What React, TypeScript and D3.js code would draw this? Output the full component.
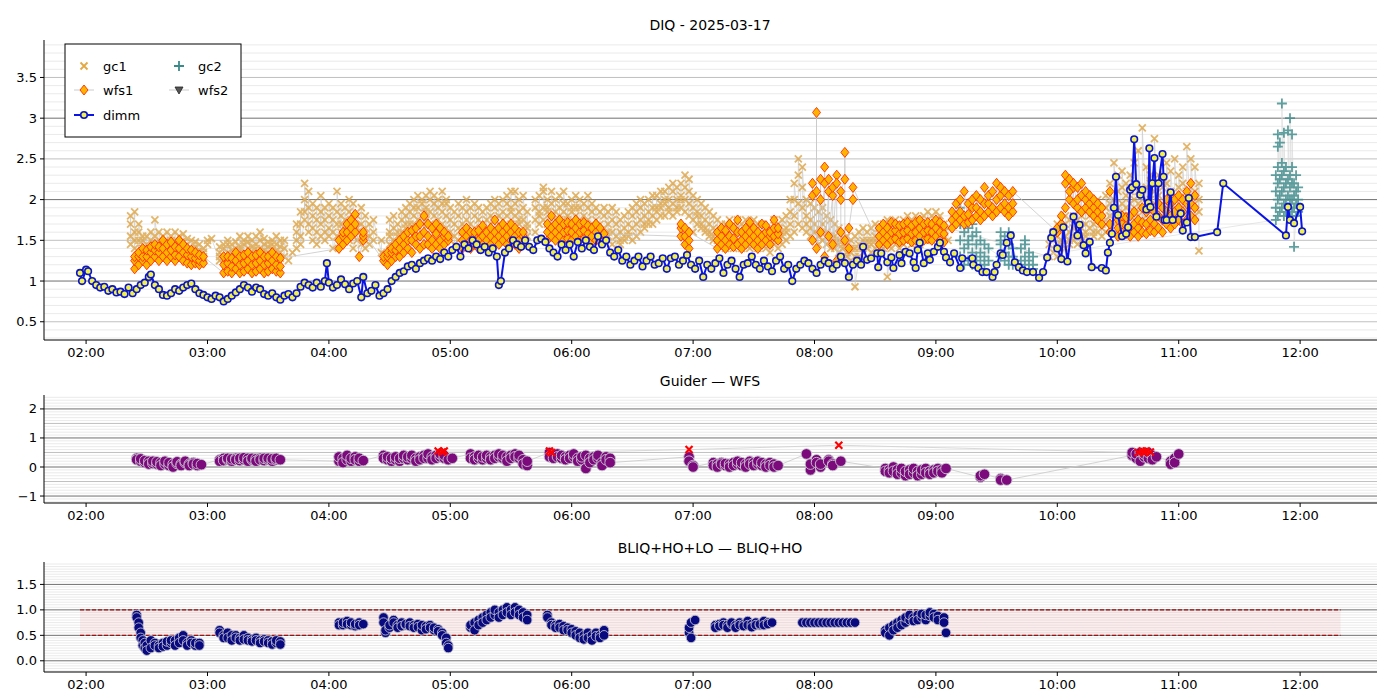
import React from "react";
import * as d3 from "d3";

// ---------- DATA (time = minutes after 00:00 UT) ----------
const dimm: [number, number][] = [
[117,1.1],[118,1.0],[120,1.14],[121,1.12],[123,1.0],[125,0.95],[127,0.92],[129,0.93],[131,0.88],[133,0.9],[135,0.86],[137,0.87],[139,0.84],[141,0.92],[143,0.85],[145,0.9],[147,0.95],[149,0.98],[151,1.05],[152,1.08],[154,0.95],[156,0.9],[158,0.83],[160,0.82],[162,0.85],[164,0.9],[166,0.88],[168,0.92],[170,0.95],[172,0.97],[174,0.9],[176,0.85],[178,0.83],[180,0.8],[182,0.78],[184,0.82],[186,0.8],[188,0.75],[190,0.78],[192,0.82],[194,0.86],[196,0.9],[198,0.95],[200,0.92],[202,0.87],[204,0.92],[206,0.9],[208,0.84],[210,0.82],[212,0.85],[214,0.8],[216,0.77],[218,0.82],[220,0.84],[222,0.8],[224,0.85],[226,0.93],[228,0.98],[230,0.95],[232,0.92],[234,0.98],[236,0.93],[238,1.0],[239,1.22],[240,0.98],[242,0.92],[244,0.95],[246,1.02],[248,0.96],[250,0.9],[252,0.97],[254,1.0],[256,0.8],[257,1.05],[259,0.85],[261,0.88],[263,0.95],[265,0.82],[267,0.85],[269,0.9],[271,1.0],[273,1.05],[275,1.1],[277,1.12],[279,1.18],[281,1.2],[283,1.15],[285,1.22],[287,1.25],[289,1.28],[291,1.25],[293,1.3],[295,1.27],[297,1.35],[299,1.3],[301,1.38],[303,1.42],[305,1.3],[307,1.45],[309,1.4],[311,1.5],[313,1.45],[315,1.38],[317,1.42],[319,1.35],[321,1.4],[323,1.3],[324,0.95],[325,1.0],[327,1.35],[329,1.4],[331,1.5],[333,1.45],[335,1.42],[337,1.5],[339,1.42],[341,1.38],[343,1.5],[345,1.52],[347,1.48],[349,1.4],[351,1.35],[353,1.3],[355,1.45],[357,1.38],[359,1.45],[361,1.3],[363,1.48],[365,1.4],[367,1.5],[369,1.42],[371,1.38],[373,1.55],[375,1.45],[377,1.5],[379,1.35],[381,1.3],[383,1.38],[385,1.25],[387,1.3],[389,1.2],[391,1.25],[393,1.3],[395,1.18],[397,1.25],[399,1.3],[401,1.2],[403,1.22],[405,1.28],[407,1.15],[409,1.28],[411,1.3],[413,1.2],[415,1.25],[417,1.32],[419,1.2],[421,1.15],[423,1.25],[425,1.05],[427,1.2],[429,1.15],[431,1.22],[433,1.28],[435,1.1],[437,1.2],[439,1.25],[441,1.15],[443,1.05],[445,1.2],[447,1.22],[449,1.3],[451,1.2],[453,1.15],[455,1.25],[457,1.18],[459,1.12],[461,1.25],[463,1.3],[465,1.15],[467,1.2],[469,1.0],[471,1.15],[473,1.2],[475,1.25],[477,1.22],[479,1.15],[481,1.1],[483,1.2],[485,1.25],[487,1.22],[489,1.15],[491,1.2],[493,1.3],[495,1.22],[497,1.05],[499,1.2],[501,1.25],[503,1.2],
[504,1.42],[506,1.26],[508,1.28],[511,1.34],[511.5,1.17],[513,1.34],[516,1.23],[518,1.29],[519,1.16],[522,1.32],[523,1.22],[525,1.36],[527,1.34],[529,1.23],[530,1.16],[531,1.38],[532,1.47],[534,1.22],[536,1.34],[537,1.26],[539,1.36],[541,1.42],[542,1.47],[544,1.36],[545,1.29],[547,1.23],[549,1.34],[552,1.16],[553,1.28],[558,1.28],[558.5,1.2],[561,1.16],[563,1.11],[565,1.11],[568,1.05],[569,1.11],[570,1.2],[572,1.34],[573,1.32],[575,1.47],[577,1.56],[579,1.23],[581,1.17],[583,1.13],[585,1.11],[588,1.11],[591,1.04],[593,1.11],[595,1.29],[597,1.53],[598,1.6],
[600,1.4],[602,1.27],[603,1.66],[605,1.24],[608,1.79],[610,1.56],[611,1.69],[613,1.44],[614,1.34],[616,1.48],[617,1.17],[622,1.16],[624,1.13],[625,1.35],[626,1.47],[627,1.58],[628,1.9],[629,2.28],[630,1.81],[632,1.55],[634,1.58],[635,1.66],[636,2.12],[637,2.15],[638,2.74],[639,2.19],[641,2.06],[642,2.12],[644,1.88],[645,1.96],[645.5,2.63],[646,1.91],[647,2.2],[648,2.51],[649,1.79],[650,2.2],[652,2.56],[652.5,2.28],[653,1.75],[654,1.75],[656,2.09],[657,1.75],[661,1.83],[662,1.62],[664,1.72],[665,2.02],[666,1.54],[668,1.54],[679,1.6],[682,2.2],[713,1.56],[714,1.91],[715,1.75],[717,1.71],[720,1.91],[721,1.61]
];

const gc1: number[][] = [
[142,1.55,1.7,1.8,1.45],[144,1.6,1.85,1.4,1.5],[146,1.5,1.35,1.6,1.7],[148,1.4,1.5,1.3,1.55],[150,1.35,1.45,1.55,1.3],[152,1.4,1.5,1.35,1.6],[154,1.45,1.3,1.55,1.75],[156,1.4,1.5,1.35,1.6],[158,1.3,1.45,1.55,1.4],[160,1.35,1.5,1.6,1.45],[162,1.4,1.55,1.3,1.5],[164,1.35,1.45,1.6,1.5],[166,1.3,1.4,1.55,1.45],[168,1.4,1.5,1.35,1.58],[170,1.3,1.45,1.38,1.52],[172,1.28,1.4,1.5,1.35],[174,1.3,1.42,1.35,1.48],[176,1.25,1.38,1.3,1.45],[178,1.28,1.35,1.4,1.3],[180,1.45,1.5],[182,1.52],
[186,1.25,1.35,1.42,1.3],[188,1.3,1.4,1.28,1.45],[190,1.35,1.45,1.3,1.5],[192,1.3,1.38,1.45,1.32],[194,1.28,1.4,1.35,1.48],[196,1.3,1.42,1.55,1.38],[198,1.35,1.45,1.3,1.5],[200,1.4,1.32,1.48,1.55],[202,1.3,1.42,1.5,1.36],[204,1.35,1.45,1.55,1.4],[206,1.32,1.4,1.5,1.6],[208,1.3,1.45,1.38,1.52],[210,1.35,1.42,1.3,1.48],[212,1.32,1.4,1.5,1.45],[214,1.3,1.38,1.45,1.55],[216,1.35,1.28,1.42,1.5],[218,1.3,1.4,1.5],[220,1.25],[222,1.35],
[224,1.4,1.6,1.5,1.7],[226,1.55,1.7,1.85,1.45],[228,1.75,2.0,1.85,2.2],[230,1.6,1.9,2.1,1.7],[232,1.65,1.8,1.95,1.5],[234,1.6,1.75,1.9,1.45],[236,1.55,1.85,1.7,2.05],[238,1.6,1.75,1.9,1.5],[240,1.65,1.55,1.8,1.95],[242,1.6,1.75,1.9,1.4],[244,1.55,1.7,1.85,2.1],[246,1.6,1.8,1.95,1.7],[248,1.55,1.75,1.9,1.65],[250,1.5,1.6,1.85,2.0],[252,1.55,1.7,1.95,1.4],[254,1.6,1.8,1.65,1.5],[256,1.55,1.7,1.9,1.45],[258,1.5,1.65,1.8,1.4],[260,1.55,1.7,1.45],[262,1.5,1.6,1.75],[266,1.35,1.5],
[270,1.45,1.6,1.75,1.55],[272,1.5,1.65,1.8,1.4],[274,1.55,1.7,1.6,1.45],[276,1.6,1.75,1.85,1.5],[278,1.65,1.8,1.7,1.9],[280,1.7,1.85,1.95,1.6],[282,1.7,1.9,2.0,1.8],[284,1.75,1.9,2.05,1.65],[286,1.8,1.95,1.7,2.0],[288,1.75,1.9,2.05,1.85],[290,1.7,1.85,2.0,2.1],[292,1.8,1.95,1.65,2.05],[294,1.75,1.9,2.0,1.6],[296,1.7,1.85,2.1,1.95],[298,1.65,1.8,1.95,2.0],[300,1.6,1.75,1.9,1.5],[302,1.55,1.7,1.85,1.45],[304,1.5,1.65,1.8,1.95],[306,1.55,1.7,1.9,1.6],[308,1.6,1.75,1.85,2.0],[310,1.55,1.7,1.9,1.5],[312,1.5,1.65,1.8,1.95],[314,1.55,1.75,1.9,1.6],[316,1.5,1.7,1.85,1.6],[318,1.55,1.75,1.9,1.65],[320,1.6,1.8,1.95,1.7],[322,1.55,1.75,1.9,2.0],[324,1.6,1.8,1.95,1.7],[326,1.65,1.85,2.0,1.75],[328,1.6,1.8,1.95,2.05],[330,1.7,1.85,2.1,1.9],[332,1.65,1.8,1.95,2.1],[334,1.7,1.85,2.0,1.75],[336,1.6,1.75,1.9,2.05],[338,1.55,1.7,1.85,1.65],
[342,1.6,1.75,1.9,2.0],[344,1.7,1.85,2.05,1.8],[346,1.75,1.9,2.1,2.15],[348,1.7,1.85,2.0,1.9],[350,1.65,1.8,1.95,2.1],[352,1.7,1.85,2.0,1.75],[354,1.75,1.9,2.05,1.8],[356,1.7,1.85,1.95,2.1],[358,1.65,1.8,1.95,1.75],[360,1.7,1.85,2.0,1.9],[362,1.65,1.8,1.9,2.05],[364,1.6,1.75,1.9,2.0],[366,1.65,1.8,1.95,1.7],[368,1.6,1.75,1.9,2.05],[370,1.55,1.7,1.85,1.95],[372,1.6,1.75,1.9,1.65],[374,1.55,1.7,1.85,1.6],[376,1.5,1.65,1.8,1.9],[378,1.55,1.7,1.85,1.6],[380,1.45,1.6,1.75,1.9],[382,1.4,1.55,1.7,1.85],[384,1.45,1.6,1.75,1.5],[386,1.5,1.65,1.8,1.55],[388,1.55,1.7,1.85,1.6],[390,1.5,1.65,1.8,1.9],[392,1.55,1.7,1.85,1.95],[394,1.6,1.75,1.9,2.0],[396,1.65,1.8,1.95,1.7],[398,1.7,1.85,2.0,1.75],[400,1.7,1.9,2.05,1.8],[402,1.75,1.9,2.05,1.85],[404,1.8,1.95,2.1,1.9],[406,1.8,1.95,2.1,2.0],[408,1.85,2.0,2.15,1.9],[410,1.8,1.95,2.1,2.2],[412,1.85,2.0,2.15,1.9],[414,1.9,2.05,2.2,2.0],[416,1.85,2.0,2.15,2.3],[418,1.8,1.95,2.1,2.25],
[420,1.75,1.9,2.05,1.6],[422,1.7,1.85,2.0,1.8],[424,1.65,1.8,1.95,1.7],[426,1.6,1.75,1.9,1.65],[428,1.55,1.7,1.85,1.6],[430,1.5,1.65,1.8,1.55],[432,1.45,1.6,1.75,1.5],[434,1.45,1.6,1.7,1.55],[436,1.4,1.55,1.7,1.5],[438,1.45,1.6,1.75,1.5],[440,1.4,1.55,1.7,1.65],[442,1.45,1.6,1.75,1.5],[444,1.4,1.55,1.7,1.45],[446,1.45,1.6,1.75,1.55],[448,1.4,1.55,1.7,1.65],[450,1.45,1.6,1.75,1.5],[452,1.4,1.55,1.7,1.65],[454,1.45,1.6,1.7,1.55],[456,1.4,1.55,1.65,1.5],[458,1.35,1.5,1.65,1.45],[460,1.45,1.6,1.75,1.5],[462,1.4,1.55,1.7,1.65],[464,1.45,1.6,1.75,1.55],[466,1.5,1.65,1.8,1.6],[468,1.55,1.7,1.85,2.0],[470,1.6,1.8,2.0,2.2],[472,1.7,1.95,2.3,2.5],[474,1.65,1.9,2.15,2.4],[476,1.6,1.8,2.0,1.7],[478,1.55,1.75,1.95,1.65],[480,1.5,1.7,1.9,1.6],[482,1.45,1.65,1.85,1.55],[484,1.5,1.7,1.9,1.6],[486,1.45,1.6,1.8,1.55],[488,1.4,1.55,1.75,1.5],[490,1.4,1.55,1.7,1.5],[492,1.35,1.5,1.65,1.45],[494,1.3,1.45,1.6,1.4],[496,1.3,1.45,1.55,1.35],[498,1.25,1.4,1.5,1.35],[500,1.3,1.4,1.55,0.93],[502,1.3,1.45,1.6,1.4],[504,1.35,1.5,1.65,1.4],[506,1.4,1.5,1.6,1.45],[508,1.35,1.5,1.65,1.45],[510,1.4,1.55,1.7,1.5],[512,1.35,1.5,1.65,1.4],[514,1.4,1.55,1.7,1.5],[516,1.45,1.6,1.75,1.05],[518,1.4,1.55,1.7,1.5],[520,1.45,1.6,1.75,1.55],[522,1.4,1.55,1.7,1.5],[524,1.45,1.6,1.75,1.55],[526,1.5,1.65,1.8,1.6],[528,1.45,1.6,1.75,1.55],[530,1.5,1.65,1.8,1.6],[532,1.45,1.6,1.75,1.55],[534,1.5,1.65,1.8,1.6],[536,1.55,1.7,1.85,1.6],[538,1.5,1.65,1.8,1.6],[540,1.55,1.7,1.85,1.65],[542,1.5,1.65,1.8,1.6],[544,1.55,1.7,1.6],[546,1.5,1.65],
[596,1.3,1.45],[598,1.35,1.5,1.6],[600,1.4,1.55,1.7,1.3],[602,1.45,1.6,1.75,1.5],[604,1.4,1.55,1.7,1.8],[606,1.45,1.6,1.75,1.5],[608,1.5,1.65,1.8,1.55],[610,1.45,1.6,1.75,1.85],[612,1.5,1.65,1.8,1.55],[614,1.55,1.7,1.85,1.6],[616,1.5,1.65,1.8,1.95],[618,1.55,1.7,1.85,1.6],[620,1.6,1.75,1.9,2.0],[622,1.55,1.7,1.85,1.65],[624,1.6,1.75,1.9,2.05],[626,1.65,1.8,1.95,2.2],[628,1.7,1.85,2.0,2.45],[630,1.75,1.9,2.1,2.3],[632,1.8,1.95,2.15,2.35],[634,1.75,1.9,2.05,2.2],[636,1.8,1.95,2.1,2.3],[638,1.85,2.0,2.2,2.45],[640,1.8,1.95,2.1,2.6],[642,1.75,1.9,2.05,2.88],[644,1.8,1.95,2.15,2.4],[646,1.85,2.0,2.2,2.3],[648,1.8,1.95,2.1,2.75],[650,1.75,1.9,2.05,2.3],[652,1.8,1.95,2.15,2.2],[654,1.85,2.0,2.2,2.45],[656,1.8,1.95,2.1,2.35],[658,1.75,1.9,2.05,2.5],[660,1.8,1.95,2.15,2.3],[662,1.85,2.0,2.2,2.4],[664,1.8,1.95,2.1,2.65],[666,1.75,1.9,2.05,2.5],[668,1.8,1.95,2.1,2.4],[670,1.85,2.0,2.2,1.37]
];

const wfs1: number[][] = [
[144,1.15,1.25,1.3],[146,1.2,1.3,1.35],[148,1.25,1.3,1.4],[150,1.2,1.3,1.38],[152,1.25,1.35,1.42],[154,1.3,1.38,1.45],[156,1.25,1.35,1.42],[158,1.3,1.4,1.5],[160,1.25,1.35,1.45],[162,1.3,1.38,1.48],[164,1.25,1.32,1.42],[166,1.3,1.4,1.5],[168,1.25,1.35,1.45],[170,1.22,1.32,1.4],[172,1.2,1.3,1.38],[174,1.22,1.28,1.35],[176,1.2,1.25,1.32],[178,1.22,1.3],
[188,1.1,1.2,1.3],[190,1.12,1.22,1.3],[192,1.1,1.18,1.28],[194,1.15,1.25,1.35],[196,1.1,1.2,1.3],[198,1.12,1.22,1.32],[200,1.15,1.25,1.35],[202,1.1,1.2,1.3],[204,1.12,1.22,1.32],[206,1.15,1.25,1.35],[208,1.1,1.2,1.3],[210,1.12,1.22,1.3],[212,1.15,1.25,1.35],[214,1.12,1.2,1.3],[216,1.1,1.18,1.28],
[245,1.4,1.5],[247,1.45,1.55,1.6],[249,1.5,1.6,1.7],[251,1.55,1.65,1.75],[253,1.6,1.7,1.82],[255,1.3],[257,1.5,1.55,1.6],
[267,1.25,1.3],[269,1.2,1.3,1.35],[271,1.25,1.35,1.4],[273,1.3,1.38,1.45],[275,1.3,1.4,1.5],[277,1.35,1.45,1.55],[279,1.4,1.5,1.6],[281,1.35,1.5,1.62],[283,1.45,1.55,1.65],[285,1.4,1.55,1.7],[287,1.45,1.6,1.8],[289,1.45,1.55,1.7],[291,1.4,1.5,1.65],[293,1.45,1.58,1.7],[295,1.4,1.5,1.65],[297,1.45,1.55,1.6],[299,1.5,1.55],
[306,1.4,1.5,1.6],[308,1.45,1.55,1.65],[310,1.4,1.5,1.6],[312,1.45,1.55,1.6],[314,1.4,1.5,1.62],[316,1.45,1.55,1.68],[318,1.4,1.5,1.6],[320,1.45,1.55,1.65],[322,1.5,1.6,1.75],[324,1.45,1.55,1.65],[326,1.5,1.6,1.7],[328,1.45,1.55,1.65],[330,1.5,1.6,1.7],[332,1.45,1.55,1.65],[334,1.4,1.5,1.6],[336,1.45,1.55,1.6],
[348,1.5,1.6,1.7],[350,1.55,1.65,1.8],[352,1.5,1.6,1.7],[354,1.55,1.65,1.75],[356,1.5,1.6,1.7],[358,1.52,1.62,1.72],[360,1.5,1.6,1.7],[362,1.55,1.65,1.75],[364,1.5,1.6,1.7],[366,1.52,1.62,1.72],[368,1.5,1.58,1.68],[370,1.48,1.55,1.65],[372,1.5,1.6,1.7],[374,1.48,1.55,1.65],[376,1.5,1.58],
[414,1.55,1.65,1.7],[416,1.45,1.55,1.65],[418,1.4,1.5,1.6],
[432,1.4,1.5,1.6],[434,1.45,1.55,1.65],[436,1.4,1.5,1.62],[438,1.45,1.55,1.7],[440,1.42,1.52,1.65],[442,1.45,1.6,1.75],[444,1.4,1.5,1.6],[446,1.45,1.55,1.65],[448,1.5,1.6,1.72],[450,1.45,1.55,1.65],[452,1.4,1.5,1.6],[454,1.45,1.55,1.7],[456,1.5,1.6,1.68],[458,1.45,1.55,1.6],[460,1.55,1.65,1.75],[462,1.5,1.58,1.65],
[479,2.05,2.2,1.5],[481,2.1,3.07,1.4],[483,2.0,2.25,1.6],[485,2.2,2.4,1.3],[487,2.1,2.25,1.55],[489,2.05,2.15,1.45],[491,2.3,2.2,1.25],[493,1.6,2.0,2.1],[495,2.25,2.58,1.5],[497,1.4,1.65],[499,2.0,2.15],
[512,1.45,1.55,1.65],[514,1.5,1.6,1.7],[516,1.45,1.55,1.65],[518,1.5,1.6,1.72],[520,1.52,1.62,1.7],[522,1.48,1.58,1.68],[524,1.5,1.6,1.7],[526,1.52,1.62,1.72],[528,1.48,1.58,1.68],[530,1.5,1.6,1.72],[532,1.55,1.65,1.75],[534,1.5,1.6,1.7],[536,1.52,1.62,1.72],[538,1.5,1.6,1.7],[540,1.55,1.65,1.75],[542,1.5,1.6,1.72],[544,1.48,1.58,1.68],
[548,1.65,1.75,1.85],[550,1.7,1.8,1.95],[552,1.75,1.85,2.0],[554,1.7,1.8,2.1],[556,1.72,1.82,1.95],[558,1.75,1.9,2.0],[560,1.8,1.9,2.05],[562,1.75,1.85,2.0],[564,1.8,1.95,2.15],[566,1.85,1.95,2.05],[568,1.8,1.9,2.1],[570,1.85,2.0,2.2],[572,1.9,2.05,2.15],[574,1.85,1.95,2.1],[576,1.8,1.9,2.05],[578,1.85,1.95,2.1],
[600,1.6,1.65],[602,1.7,1.8],[604,1.9,2.2,2.3],[606,2.0,2.1,2.25],[608,1.95,2.15,2.2],[610,1.9,2.0,2.15],[612,1.85,2.05,2.2],[614,1.9,2.0,2.1],[616,1.85,1.95,2.05],[618,1.8,1.9,2.0],[620,1.75,1.85,1.95],[622,1.7,1.8,1.9],[626,1.6,1.7,2.1],[630,1.55,1.65,1.75],[632,1.6,1.7,1.8],[634,1.58,1.68,1.78],[636,1.55,1.65,1.8],[638,1.6,1.7,1.85],[640,1.55,1.65,1.75],[642,1.6,1.72,1.9],[644,1.58,1.7,1.85],[646,1.62,1.75,1.9],[648,1.6,1.7,1.85],[650,1.65,1.8,1.95],[652,1.6,1.75,1.9],[654,1.7,1.85,2.0],[656,1.65,1.8,1.95],[658,1.7,1.85,2.0],[660,1.75,1.9,2.05],[662,1.7,1.85,2.0],[664,1.75,1.95,2.1],[666,1.8,1.95,2.2],[668,1.75,1.9,2.05]
];

const gc2: number[][] = [
[552,1.3,1.5,1.7,1.9],[554,1.2,1.4,1.6,1.8],[556,1.25,1.45,1.65,1.5],[558,1.2,1.35,1.55,1.7],[560,1.2,1.3,1.45,1.6],[562,1.25,1.35,1.5],[564,1.2,1.3,1.45],[566,1.25,1.4],
[572,1.3,1.45,1.6,1.5],[574,1.25,1.35,1.55],[576,1.2,1.3,1.45,1.6],[578,1.2,1.3,1.4],[582,1.15,1.25,1.4],[584,1.2,1.3,1.45,1.5],[586,1.15,1.25,1.35],[588,1.15,1.2,1.3],
[708,1.75,1.9,2.1,2.3],[709,1.8,2.0,2.2,2.4,2.65,2.8],[710,1.85,2.05,2.25,2.7],[711,1.9,2.1,2.3,2.45,3.18],[712,1.8,1.95,2.15,2.35,2.82],[713,1.85,2.0,2.2,2.4],[714,1.9,2.05,2.25,2.85],[715,1.8,2.0,2.15,2.3,3.0],[716,1.85,2.0,2.2,2.4,2.8],[717,1.9,2.05,2.2,1.42],[718,1.8,1.95,2.1,2.3],[719,1.85,2.0,2.15]
];

const guider: number[][] = [
[145,0.3,0.25],[147,0.2,0.28],[149,0.15,0.22],[151,0.2,0.1],[153,0.12,0.2],[155,0.1,0.18],[157,0.15,0.05],[159,0.1,0.2],[161,0.05,0.15],[163,0.1,0.0],[165,0.12,0.18],[167,0.1,0.05],[169,0.15,0.2],[171,0.1,0.05],[173,0.15,0.1],[175,0.05,0.12],[177,0.08],
[186,0.25,0.2],[188,0.3,0.22],[190,0.25,0.3],[192,0.2,0.28],[194,0.3,0.25],[196,0.22,0.3],[198,0.25,0.32],[200,0.3,0.2],[202,0.25,0.3],[204,0.28,0.2],[206,0.3,0.25],[208,0.22,0.3],[210,0.25,0.3],[212,0.2,0.28],[214,0.25,0.3],[216,0.25],
[245,0.2,0.35],[247,0.3,0.15],[249,0.25,0.4],[251,0.2,0.3],[253,0.35,0.25],[255,0.2,0.3],[257,0.22],
[267,0.4,0.3],[269,0.25,0.35],[271,0.2,0.3],[273,0.25,0.35],[275,0.2,0.3],[277,0.3,0.4],[279,0.25,0.35],[281,0.3,0.4],[283,0.3,0.2],[285,0.35,0.25],[287,0.4,0.3],[289,0.3,0.45],[291,0.35,0.25],[293,0.4,0.3],[295,0.35,0.45],[297,0.3,0.4],[299,0.25],[301,0.3],
[310,0.45,0.3],[312,0.35,0.25],[314,0.3,0.4],[316,0.25,0.35],[318,0.3,0.4],[320,0.35,0.25],[322,0.4,0.3],[324,0.35,0.45],[326,0.3,0.4],[328,0.35,0.2],[330,0.4,0.3],[332,0.45,0.35],[334,0.3,0.4],[336,0.25,0.1],[338,0.05,0.2],
[349,0.5,0.35],[351,0.4,0.3],[353,0.45,0.35],[355,0.3,0.4],[357,0.35,0.25],[359,0.4,0.3],[361,0.35,0.45],[363,0.3,0.2],[365,0.25,0.35],[367,0.4,-0.05],[369,0.3,0.15],[371,0.35,0.25],[373,0.3,0.4],[375,0.15,0.05],[377,0.35,0.25],[379,0.3,0.15],
[418,0.35,0.2],[420,0.05,0.0],
[430,0.15,0.05],[432,0.1,0.0],[434,0.15,0.1],[436,0.05,0.12],[438,0.1,0.0],[440,0.15,0.05],[442,0.1,0.2],[444,0.05,0.15],[446,0.1,0.0],[448,0.2,0.1],[450,0.15,0.05],[452,0.1,0.2],[454,0.05,0.15],[456,0.1,0.0],[458,0.15,0.05],[460,0.1,0.0],[462,0.05],
[476,0.45],[478,-0.1,0.1],[481,0.25,0.15],[483,0.0,0.1],[487,0.25,0.2],[489,0.1,0.05],[493,0.2],
[515,-0.05,-0.15],[517,-0.1,-0.2],[519,0.0,-0.15],[521,-0.1,-0.25],[523,-0.2,-0.05],[525,-0.3,-0.15],[527,-0.1,-0.25],[529,-0.2,-0.05],[531,-0.15,-0.3],[533,-0.25,-0.1],[535,-0.05,-0.2],[537,-0.15,-0.25],[539,-0.1,-0.2],[541,-0.05,-0.15],[543,-0.1,-0.2],[545,-0.05],
[562,-0.35,-0.3],[564,-0.25],[572,-0.4,-0.45],[575,-0.45],
[637,0.4,0.5],[639,0.3,0.45],[641,0.5,0.2],[643,0.35,0.45],[645,0.3,0.5],[647,0.4,0.25],[649,0.35],[656,0.2,0.1],[658,0.3,0.15],[660,0.45]
];

const guiderFlag: [number, number][] = [
[294,0.55],[296,0.52],[297,0.55],[349,0.55],[350,0.5],[418,0.6],[492,0.75],[640,0.5],[642,0.55],[643,0.5],[644,0.55],[646,0.52]
];

const bliq: number[][] = [
[145,0.9,0.85],[146,0.75,0.65],[147,0.55,0.45],[148,0.4,0.3],[149,0.35,0.25],[150,0.3,0.2],[152,0.4,0.25],[154,0.35,0.3],[156,0.3,0.25],[158,0.35,0.28],[160,0.3,0.38],[162,0.35,0.4],[164,0.4,0.3],[166,0.45,0.35],[168,0.5,0.4],[170,0.35,0.3],[172,0.4,0.35],[174,0.3,0.35],[176,0.35,0.3],
[186,0.6,0.55],[188,0.5,0.45],[190,0.55,0.45],[192,0.5,0.4],[194,0.5,0.45],[196,0.45,0.4],[198,0.5,0.42],[200,0.45,0.4],[202,0.42,0.38],[204,0.45,0.4],[206,0.4,0.35],[208,0.42,0.38],[210,0.4,0.35],[212,0.38,0.32],[214,0.35,0.4],[216,0.38,0.32],
[245,0.75,0.7],[247,0.7,0.75],[249,0.78,0.72],[251,0.7,0.75],[253,0.68,0.72],[255,0.75,0.7],[257,0.72],
[267,0.85,0.75],[268,0.55,0.6],[270,0.65,0.7],[272,0.8,0.75],[274,0.7,0.65],[276,0.75,0.68],[278,0.7,0.72],[280,0.75,0.68],[282,0.7,0.65],[284,0.72,0.66],[286,0.6,0.7],[288,0.68,0.62],[290,0.7,0.65],[292,0.6,0.65],[294,0.62,0.58],[296,0.55,0.5],[298,0.45,0.35],[299,0.3,0.25],
[310,0.65,0.7],[312,0.75,0.6],[314,0.8,0.7],[316,0.85,0.75],[318,0.9,0.8],[320,0.95,0.85],[322,0.9,1.0],[324,0.95,0.85],[326,1.0,0.9],[328,1.05,0.95],[330,1.0,0.9],[332,1.05,0.95],[334,1.0,0.9],[336,0.95,0.85],[338,0.9,0.8],
[348,0.9,0.85],[350,0.75,0.7],[352,0.7,0.65],[354,0.72,0.65],[356,0.68,0.6],[358,0.65,0.6],[360,0.62,0.55],[362,0.58,0.5],[364,0.55,0.45],[366,0.5,0.42],[368,0.55,0.45],[370,0.5,0.4],[372,0.55,0.48],[374,0.5,0.45],[376,0.6,0.5],
[418,0.55,0.65],[419,0.45,0.75],[421,0.8],
[431,0.7,0.65],[433,0.72,0.68],[435,0.75,0.7],[437,0.7,0.65],[439,0.72,0.75],[441,0.7,0.65],[443,0.75,0.7],[445,0.72,0.68],[447,0.78,0.7],[449,0.72,0.66],[451,0.75,0.7],[453,0.7,0.72],[455,0.78,0.7],[457,0.75,0.72],[459,0.75],
[474,0.75],[476,0.75],[478,0.75],[480,0.75],[482,0.75],[484,0.75],[486,0.75],[488,0.75],[490,0.75],[492,0.75],[494,0.75],[496,0.75],[498,0.75],[500,0.75],
[515,0.6,0.55],[517,0.65,0.5],[519,0.7,0.6],[521,0.75,0.65],[523,0.8,0.7],[525,0.75,0.85],[527,0.8,0.9],[529,0.85,0.78],[531,0.9,0.8],[533,0.85,0.92],[535,0.8,0.9],[537,0.88,0.95],[539,0.92,0.85],[541,0.88,0.8],[544,0.85,0.75],[545,0.55]
];

const hourTicks = [120, 180, 240, 300, 360, 420, 480, 540, 600, 660, 720];
const yTicksTop = [0.5, 1, 1.5, 2, 2.5, 3, 3.5];
const yTicksGuider = [-1, 0, 1, 2];
const yTicksBliq = [0, 0.5, 1.0, 1.5];
const bliqBand = { lo: 0.5, hi: 1.0, t0: 117, t1: 740 };

// ---------- helpers ----------
const flat = (rows: number[][]) => rows.flatMap(r => r.slice(1).map(v => [r[0], v] as [number, number]));
const fmtH = (m: number) => `${String(Math.floor(m / 60)).padStart(2, "0")}:${String(m % 60).padStart(2, "0")}`;
const FONT = "DejaVu Sans, sans-serif";

const x = d3.scaleLinear().domain([99.2, 758]).range([44, 1377]);

function Grid({ y, minor, mid, major, x0, x1 }: any) {
  const [a, b] = y.domain();
  const lines: any[] = [];
  const n = Math.round((b - a) / minor) + 2;
  const start = Math.ceil(a / minor) * minor;
  for (let i = 0; i < n; i++) {
    const v = +(start + i * minor).toFixed(4);
    if (v > b) break;
    const isMaj = Math.abs(v / major - Math.round(v / major)) < 1e-6;
    const isMid = mid && Math.abs(v / mid - Math.round(v / mid)) < 1e-6;
    lines.push(<line key={i} x1={x0} x2={x1} y1={y(v)} y2={y(v)}
      stroke={isMaj ? "#707070" : isMid ? "#b0b0b0" : "#e4e4e4"} strokeWidth={isMaj ? 1 : 0.8} />);
  }
  return <g>{lines}</g>;
}

function Axes({ y, top, bottom, yTicks, fmt }: any) {
  return (
    <g fontFamily={FONT} fontSize={13} fill="#000">
      <line x1={44} x2={44} y1={top} y2={bottom} stroke="#000" />
      <line x1={44} x2={1377} y1={bottom} y2={bottom} stroke="#000" />
      {hourTicks.map(t => (
        <g key={t}>
          <line x1={x(t)} x2={x(t)} y1={bottom} y2={bottom + 4} stroke="#000" />
          <text x={x(t)} y={bottom + 17} textAnchor="middle">{fmtH(t)}</text>
        </g>
      ))}
      {yTicks.map((v: number) => (
        <g key={v}>
          <line x1={40} x2={44} y1={y(v)} y2={y(v)} stroke="#000" />
          <text x={37} y={y(v) + 4.5} textAnchor="end">{fmt(v)}</text>
        </g>
      ))}
    </g>
  );
}

const xMark = (cx: number, cy: number, s: number) => `M${cx - s},${cy - s}L${cx + s},${cy + s}M${cx - s},${cy + s}L${cx + s},${cy - s}`;
const plusMark = (cx: number, cy: number, s: number) => `M${cx - s},${cy}L${cx + s},${cy}M${cx},${cy - s}L${cx},${cy + s}`;
const diamond = (cx: number, cy: number, s: number) => `M${cx},${cy - s}L${cx + s * 0.8},${cy}L${cx},${cy + s}L${cx - s * 0.8},${cy}Z`;

export default function App() {
  const yT = d3.scaleLinear().domain([0.276, 3.96]).range([340, 40]);
  const yG = d3.scaleLinear().domain([-1.24, 2.48]).range([503, 395]);
  const yB = d3.scaleLinear().domain([-0.22, 1.94]).range([672, 562]);

  const gc1P = flat(gc1), wfsP = flat(wfs1), gc2P = flat(gc2), gP = flat(guider), bP = flat(bliq);
  const line = (y: any) => d3.line<[number, number]>().x(d => x(d[0])).y(d => y(d[1]));

  return (
    <svg width={1400} height={700} style={{ position: "absolute", left: 0, top: 0, background: "#fff" }}>
      {/* ---- Panel 1 ---- */}
      <text x={710} y={30} textAnchor="middle" fontFamily={FONT} fontSize={14}>DIQ - 2025-03-17</text>
      <Grid y={yT} minor={0.1} mid={0.5} major={1} x0={44} x1={1377} />
      <path d={line(yT)(gc1P) || ""} fill="none" stroke="#c8c8c8" strokeWidth={0.6} />
      <g stroke="#dea444" strokeWidth={1.8} opacity={0.8}>
        {gc1P.map((d, i) => <path key={i} d={xMark(x(d[0]), yT(d[1]), 3.5)} />)}
      </g>
      <path d={line(yT)(gc2P) || ""} fill="none" stroke="#d6d6d6" strokeWidth={0.6} />
      <g stroke="#3b8a8a" strokeWidth={1.8} opacity={0.8}>
        {gc2P.map((d, i) => <path key={i} d={plusMark(x(d[0]), yT(d[1]), 5)} />)}
      </g>
      <path d={line(yT)(wfsP) || ""} fill="none" stroke="#c8c8c8" strokeWidth={0.8} />
      <g fill="#ffb400" stroke="#ff2a00" strokeWidth={0.9}>
        {wfsP.map((d, i) => <path key={i} d={diamond(x(d[0]), yT(d[1]), 5)} />)}
      </g>
      <path d={line(yT)(dimm) || ""} fill="none" stroke="#0a14e6" strokeWidth={2} />
      <g fill="#f2f04a" stroke="#0a14c8" strokeWidth={1.6}>
        {dimm.map((d, i) => <circle key={i} cx={x(d[0])} cy={yT(d[1])} r={3.3} />)}
      </g>
      <Axes y={yT} top={40} bottom={340} yTicks={yTicksTop} fmt={(v: number) => String(v)} />
      {/* legend */}
      <g fontFamily={FONT} fontSize={13}>
        <rect x={65} y={44} width={176} height={93} fill="#fff" stroke="#000" />
        <path d={xMark(84, 66, 3.5)} stroke="#e3a844" strokeWidth={1.8} />
        <text x={103} y={71}>gc1</text>
        <path d={plusMark(179, 66, 5)} stroke="#3b8a8a" strokeWidth={1.8} />
        <text x={198} y={71}>gc2</text>
        <line x1={74} x2={94} y1={90} y2={90} stroke="#ccc" />
        <path d={diamond(84, 90, 5)} fill="#ffb400" stroke="#ff2a00" strokeWidth={0.9} />
        <text x={103} y={95}>wfs1</text>
        <line x1={169} x2={189} y1={90} y2={90} stroke="#ccc" />
        <path d="M175,87L183,87L179,94Z" fill="#555" stroke="#222" strokeWidth={0.8} />
        <text x={198} y={95}>wfs2</text>
        <line x1={74} x2={94} y1={115} y2={115} stroke="#0a14e6" strokeWidth={2} />
        <circle cx={84} cy={115} r={3.3} fill="#f2f04a" stroke="#0a14c8" strokeWidth={1.6} />
        <text x={103} y={120}>dimm</text>
      </g>

      {/* ---- Panel 2 ---- */}
      <text x={710} y={386} textAnchor="middle" fontFamily={FONT} fontSize={14}>Guider — WFS</text>
      <Grid y={yG} minor={0.1} mid={0.5} major={1} x0={44} x1={1377} />
      <path d={line(yG)(gP) || ""} fill="none" stroke="#c8c8c8" strokeWidth={0.8} />
      <path d={line(yG)(guiderFlag) || ""} fill="none" stroke="#cfcfcf" strokeWidth={0.8} />
      <g fill="#7d0a7d" stroke="#c8c8d0" strokeWidth={0.9}>
        {gP.map((d, i) => <circle key={i} cx={x(d[0])} cy={yG(d[1])} r={5.3} />)}
      </g>
      <g stroke="#ff0000" strokeWidth={2.2}>
        {guiderFlag.map((d, i) => <path key={i} d={xMark(x(d[0]), yG(d[1]), 3.5)} />)}
      </g>
      <Axes y={yG} top={395} bottom={503} yTicks={yTicksGuider} fmt={(v: number) => (v < 0 ? "\u2212" + Math.abs(v) : String(v))} />

      {/* ---- Panel 3 ---- */}
      <text x={710} y={553} textAnchor="middle" fontFamily={FONT} fontSize={14}>BLIQ+HO+LO — BLIQ+HO</text>
      <Grid y={yB} minor={0.05} mid={0} major={0.5} x0={44} x1={1377} />
      <rect x={x(bliqBand.t0)} width={x(bliqBand.t1) - x(bliqBand.t0)} y={yB(bliqBand.hi)} height={yB(bliqBand.lo) - yB(bliqBand.hi)} fill="#f0a0a0" opacity={0.18} />
      {[bliqBand.lo, bliqBand.hi].map(v => (
        <line key={v} x1={x(bliqBand.t0)} x2={x(bliqBand.t1)} y1={yB(v)} y2={yB(v)} stroke="#a01010" strokeDasharray="4,2" strokeWidth={1.1} />
      ))}
      <g fill="#0a0a80" stroke="#c0c0cc" strokeWidth={0.9}>
        {bP.map((d, i) => <circle key={i} cx={x(d[0])} cy={yB(d[1])} r={4.8} />)}
      </g>
      <Axes y={yB} top={562} bottom={672} yTicks={yTicksBliq} fmt={(v: number) => v.toFixed(1)} />
    </svg>
  );
}
